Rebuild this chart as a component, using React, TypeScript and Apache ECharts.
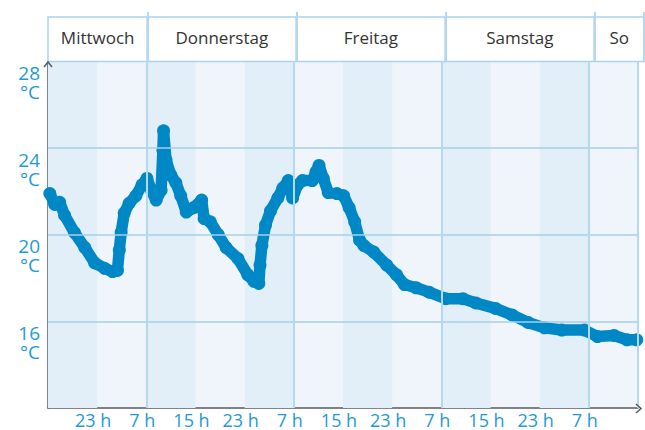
import React, { useEffect, useRef } from "react";
import * as echarts from "echarts";

// Hours since Wednesday 15:00
const hours = [
  0.3, 1.1, 1.9, 2.7, 4.3, 6.0, 7.6, 9.2, 10.5, 11.3, 11.6, 11.9, 12.4, 13.2, 14.3, 15.3,
  16.1, 16.9, 17.6, 18.4, 18.7, 18.8, 19.2, 20.0, 20.8, 21.6, 22.5, 23.7, 25.0, 25.4, 26.4,
  27.7, 29.0, 30.9, 32.5, 33.5, 34.3, 34.5, 34.8, 35.4, 36.2, 37.4, 38.2, 39.1, 39.8, 40.6,
  41.4, 43.0, 43.6, 44.1, 44.8, 45.6, 47.0, 48.1, 49.0, 49.9, 50.7, 51.4, 53.0, 55.1, 56.7,
  58.0, 59.9, 62.0, 64.7, 67.5, 69.6, 72.8, 75.5, 78.1, 80.8, 83.6, 87.3, 89.4, 92.1, 94.2, 95.8,
];
const temps = [
  21.9, 21.4, 21.5, 20.9, 20.1, 19.4, 18.7, 18.45, 18.3, 18.35, 19.3, 20.1, 21.0, 21.45, 21.8, 22.3,
  22.6, 22.0, 21.6, 22.05, 23.9, 24.8, 23.45, 22.75, 22.4, 21.8, 21.05, 21.25, 21.6, 20.75, 20.6,
  20.0, 19.4, 18.9, 18.15, 17.85, 17.75, 18.6, 19.5, 20.45, 21.1, 21.7, 22.15, 22.5, 21.7, 22.3,
  22.5, 22.5, 22.9, 23.2, 22.6, 21.95, 21.9, 21.8, 21.25, 20.6, 19.75, 19.5, 19.2, 18.6, 18.15,
  17.7, 17.55, 17.35, 17.05, 17.05, 16.85, 16.6, 16.3, 15.95, 15.7, 15.6, 15.6, 15.3, 15.35, 15.15, 15.15,
];

const days = ["Mittwoch", "Donnerstag", "Freitag", "Samstag", "So"];
const dayStarts = [0, 16, 40, 64, 88];
const dayEnd = 96;

const xTickHours = [8, 16, 24, 32, 40, 48, 56, 64, 72, 80, 88];
const xTickLabels = ["23 h", "7 h", "15 h", "23 h", "7 h", "15 h", "23 h", "7 h", "15 h", "23 h", "7 h"];
const yTicks = [16, 20, 24, 28];
const darkBandStarts = [0, 16, 32, 48, 64, 80];
const bandLength = 8;

const BLUE_TEXT = "#1e9ad6";
const LINE = "#0088c6";
const GRID_LINE = "#a6cfe8";
const SEP_LINE = "#b4d8ee";
const AXIS = "#555b60";
const FONT = "'Open Sans', sans-serif";

export default function App() {
  const ref = useRef<HTMLDivElement>(null);
  useEffect(() => {
    if (!ref.current) return;
    const chart = echarts.init(ref.current, undefined, { renderer: "svg", width: 645, height: 430 });
    const sepLines = [...dayStarts.slice(1), dayEnd].map((x) => ({ xAxis: x }));
    const option: any = {
      animation: false,
      textStyle: { fontFamily: FONT },
      grid: [
        { left: 48, width: 596, top: 61.5, height: 346.5, show: true, backgroundColor: "#eff5fb", borderWidth: 0 },
        { left: 48, width: 596, top: 12, height: 49.5 },
      ],
      xAxis: [
        {
          gridIndex: 0,
          type: "value",
          min: 0,
          max: 96,
          interval: 8,
          axisLine: { show: true, lineStyle: { color: AXIS, width: 1.5 } },
          axisTick: { show: false },
          splitLine: { show: false },
          axisLabel: {
            margin: 3,
            fontSize: 18,
            lineHeight: 17,
            color: BLUE_TEXT,
            fontFamily: FONT,
            padding: [0, 8, 0, 0],
            formatter: (v: number) => {
              const i = xTickHours.indexOf(v);
              return i >= 0 ? xTickLabels[i] : "";
            },
          },
        },
        { gridIndex: 1, type: "value", min: 0, max: 96, show: false },
      ],
      yAxis: [
        {
          gridIndex: 0,
          type: "value",
          min: 12,
          max: 28,
          interval: 4,
          axisLine: { show: true, lineStyle: { color: AXIS, width: 1.5 } },
          axisTick: { show: false },
          splitLine: { show: false },
          axisLabel: {
            margin: 8,
            verticalAlign: "top",
            align: "right",
            fontSize: 19,
            lineHeight: 19,
            padding: [2, 0, 0, 0],
            color: BLUE_TEXT,
            fontFamily: FONT,
            formatter: (v: number) => (yTicks.indexOf(v) >= 0 ? `${v}\n°C` : ""),
          },
        },
        { gridIndex: 1, type: "value", min: 0, max: 1, show: false },
      ],
      series: [
        {
          type: "line",
          data: [],
          z: 1,
          silent: true,
          markArea: {
            silent: true,
            itemStyle: { color: "#e2eef8" },
            data: darkBandStarts.map((s) => [{ xAxis: s }, { xAxis: s + bandLength }]),
          },
        },
        {
          type: "line",
          data: [],
          z: 2,
          silent: true,
          markLine: {
            silent: true,
            symbol: "none",
            label: { show: false },
            data: [
              ...yTicks.slice(0, 3).map((y) => ({ yAxis: y, lineStyle: { color: GRID_LINE, width: 1.5, type: "solid" } })),
              ...sepLines.map((d) => ({ ...d, lineStyle: { color: SEP_LINE, width: 2, type: "solid" } })),
            ],
          },
        },
        {
          type: "line",
          z: 3,
          data: hours.map((h, i) => [h, temps[i]]),
          symbol: "circle",
          symbolSize: 13,
          showAllSymbol: true,
          lineStyle: { color: LINE, width: 11.5, cap: "round", join: "round" },
          itemStyle: { color: LINE },
        },
        {
          type: "line",
          data: [],
          xAxisIndex: 1,
          yAxisIndex: 1,
          silent: true,
          markArea: {
            silent: true,
            itemStyle: { color: "#ffffff", borderColor: "#a9d4ee", borderWidth: 1.5 },
            label: { show: true, position: "inside", color: "#333", fontSize: 17, fontFamily: FONT, offset: [0, -2] },
            data: days.map((d, i) => [
              { name: d, xAxis: dayStarts[i], yAxis: 0 },
              { xAxis: i + 1 < dayStarts.length ? dayStarts[i + 1] : dayEnd, yAxis: 0.9 },
            ]),
          },
          markLine: {
            silent: true,
            symbol: "none",
            label: { show: false },
            lineStyle: { color: SEP_LINE, width: 2, type: "solid" },
            data: sepLines,
          },
        },
      ],
      graphic: [
        {
          type: "polyline",
          shape: { points: [[44, 67], [48, 62], [52, 67]] },
          style: { stroke: AXIS, lineWidth: 1.5, fill: "none" },
          z: 10,
        },
        {
          type: "polyline",
          shape: { points: [[636, 404], [641, 408.5], [636, 413]] },
          style: { stroke: AXIS, lineWidth: 1.5, fill: "none" },
          z: 10,
        },
      ],
    };
    chart.setOption(option);
    return () => chart.dispose();
  }, []);
  return (
    <div
      ref={ref}
      style={{ position: "fixed", left: 0, top: 0, width: 645, height: 430, background: "#fff" }}
    />
  );
}
